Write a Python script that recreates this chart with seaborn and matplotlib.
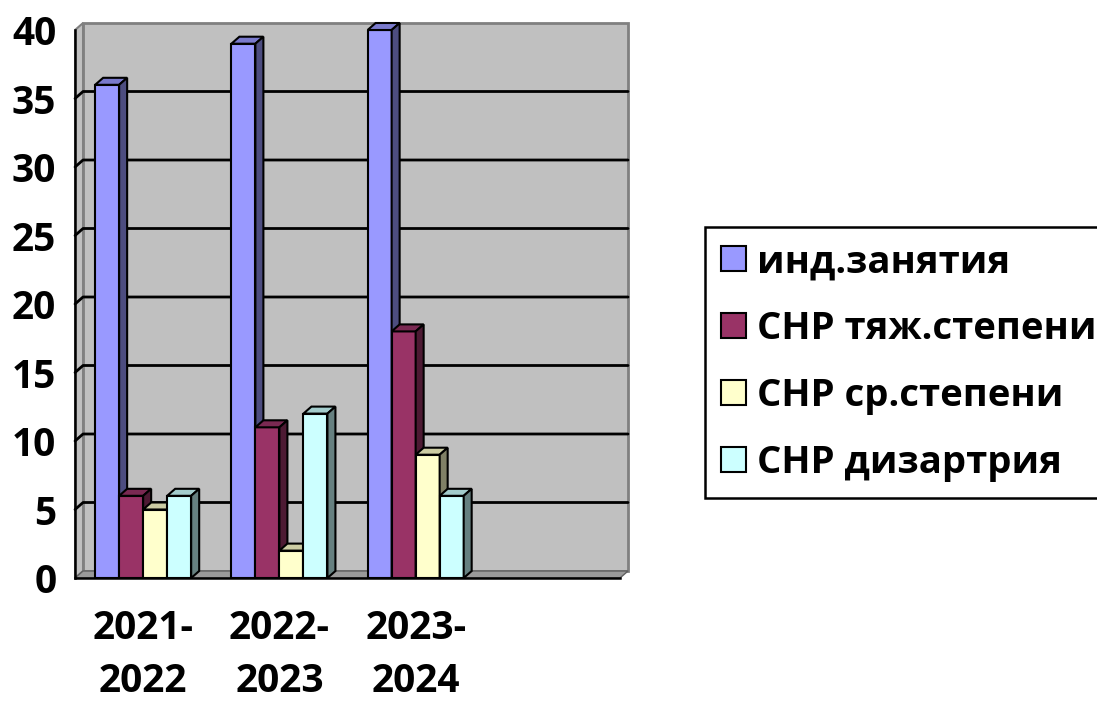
import numpy as np
import pandas as pd
import seaborn as sns
import matplotlib.pyplot as plt
from matplotlib.patches import Polygon, Patch

# Data
years = ['2021-\n2022', '2022-\n2023', '2023-\n2024']
series = ['инд.занятия', 'СНР тяж.степени', 'СНР ср.степени', 'СНР дизартрия']
ind = [36, 39, 40]
tyazh = [6, 11, 18]
sred = [5, 2, 9]
dizart = [6, 12, 6]
colors = ['#9999FF', '#993366', '#FFFFCC', '#CCFFFF']

df = pd.DataFrame({'year': years * 4,
                   'series': np.repeat(series, len(years)),
                   'value': ind + tyazh + sred + dizart})

sns.set_style('white')
plt.rcParams['font.family'] = ['Open Sans', 'DejaVu Sans']
plt.rcParams['font.weight'] = 'bold'
plt.rcParams['text.color'] = 'black'

fig = plt.figure(figsize=(10.97, 7.06), dpi=100)
ax = fig.add_axes([0.0684, 0.1813, 0.4968, 0.7762])
sns.barplot(data=df, x='year', y='value', hue='series', palette=colors,
            width=0.705, edgecolor='black', linewidth=1.5, saturation=1,
            ax=ax)
ax.get_legend().remove()
ax.set_xlim(-0.5, 3.5)
ax.set_ylim(0, 40)
x0, x1, y0, y1 = -0.5, 3.5, 0, 40

# depth of the fake 3D effect, pixels -> data units
pos = ax.get_position()
dx = 8 / (fig.get_figwidth() * fig.dpi * pos.width / (x1 - x0))
dy = 7 / (fig.get_figheight() * fig.dpi * pos.height / (y1 - y0))

# walls and floor
wall = Polygon([(x0 + dx, y0 + dy), (x1 + dx, y0 + dy), (x1 + dx, y1 + dy), (x0 + dx, y1 + dy)],
               fc='#C0C0C0', ec='#808080', lw=2, zorder=0.5, clip_on=False)
side_wall = Polygon([(x0, y0), (x0, y1), (x0 + dx, y1 + dy), (x0 + dx, y0 + dy)],
                    fc='#C0C0C0', ec='#808080', lw=1.5, zorder=0.6, clip_on=False)
floor = Polygon([(x0, y0), (x1, y0), (x1 + dx, y0 + dy), (x0 + dx, y0 + dy)],
                fc='#9A9A9A', ec='#606060', lw=1, zorder=0.7, clip_on=False)
for p in (wall, side_wall, floor):
    ax.add_patch(p)

# gridlines on the back wall
for v in range(5, 40, 5):
    ax.plot([x0, x0 + dx, x1 + dx], [v, v + dy, v + dy], color='black', lw=2,
            zorder=1, clip_on=False)

# 3D faces for every bar
bars = sorted([p for c in ax.containers for p in c], key=lambda p: p.get_x())
for k, p in enumerate(bars):
    x, w, h = p.get_x(), p.get_width(), p.get_height()
    base = np.array(p.get_facecolor()[:3])
    z = 3 + k
    p.set_zorder(z)
    top = Polygon([(x, h), (x + w, h), (x + w + dx, h + dy), (x + dx, h + dy)],
                  fc=base * 0.8, ec='black', lw=1.5, zorder=z, clip_on=False)
    side = Polygon([(x + w, 0), (x + w, h), (x + w + dx, h + dy), (x + w + dx, dy)],
                   fc=base * 0.5, ec='black', lw=1.5, zorder=z, clip_on=False)
    ax.add_patch(top)
    ax.add_patch(side)

# axes and ticks
sns.despine(ax=ax, top=True, right=True)
for s in ('left', 'bottom'):
    ax.spines[s].set_color('black')
    ax.spines[s].set_linewidth(1.8)
    ax.spines[s].set_zorder(2)
ax.set_yticks(range(0, 41, 5))
ax.tick_params(axis='y', length=8.5, width=1.5, pad=5, labelsize=28,
               color='black', labelcolor='black')
ax.set_xticks([-0.5, 0.5, 1.5, 2.5], minor=True)
ax.tick_params(axis='x', which='major', length=0, pad=22, labelsize=28,
               labelcolor='black')
ax.tick_params(axis='x', which='minor', length=9.5, width=1.5, color='black')
for lab in ax.get_xticklabels():
    lab.set_linespacing(1.48)
    lab.set_fontweight('bold')
for lab in ax.get_yticklabels():
    lab.set_fontweight('bold')
ax.set_xlabel('')
ax.set_ylabel('')

# legend
handles = [Patch(fc=c, ec='black', lw=1.5) for c in colors]
leg = fig.legend(handles, series, loc='upper left',
                 bbox_to_anchor=(705 / 1097, 1 - 227 / 706),
                 frameon=True, fancybox=False, edgecolor='black', framealpha=1,
                 prop={'size': 27.5, 'weight': 'bold'}, labelcolor='black',
                 handlelength=0.65, handleheight=0.65, handletextpad=0.3,
                 labelspacing=0.76, borderpad=0.42, borderaxespad=0)
leg.get_frame().set_linewidth(1.8)

fig.savefig('out.png', dpi=100)
